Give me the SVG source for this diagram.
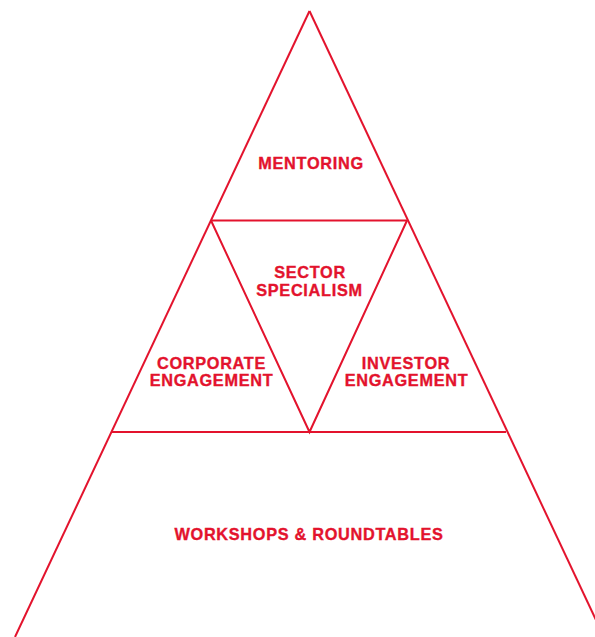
<svg xmlns="http://www.w3.org/2000/svg" width="595" height="637" viewBox="0 0 595 637">
  <style>
    .edge { fill: none; stroke: #e3132d; stroke-width: 2; stroke-linejoin: miter; }
    .label { font-family: "Liberation Sans", Arial, sans-serif; font-weight: bold; font-size: 16.3px; letter-spacing: 0.7px; fill: #e3132d; stroke: #e3132d; stroke-width: 0.35px; text-anchor: middle; }
  </style>
  <rect width="595" height="637" fill="#ffffff"/>
  <g id="connectors">
    <!-- outer sides of the pyramid -->
    <line class="edge" x1="309.5" y1="11" x2="15" y2="637"/>
    <line class="edge" x1="309.5" y1="11" x2="604" y2="637"/>
    <!-- tier dividers -->
    <line class="edge" x1="211" y1="220.5" x2="407" y2="220.5"/>
    <line class="edge" x1="111.5" y1="432" x2="506" y2="432"/>
    <!-- inverted centre triangle -->
    <polyline class="edge" points="211,220.5 309.5,432 407,220.5"/>
  </g>
  <g id="mentoring">
    <text class="label" x="311" y="168.5">MENTORING</text>
  </g>
  <g id="sector-specialism">
    <text class="label" x="310" y="278.3">SECTOR</text>
    <text class="label" x="309.5" y="296">SPECIALISM</text>
  </g>
  <g id="corporate-engagement">
    <text class="label" x="211.5" y="368.5">CORPORATE</text>
    <text class="label" x="211.5" y="386">ENGAGEMENT</text>
  </g>
  <g id="investor-engagement">
    <text class="label" x="406" y="368.5">INVESTOR</text>
    <text class="label" x="406.5" y="386">ENGAGEMENT</text>
  </g>
  <g id="workshops-roundtables">
    <text class="label" x="309" y="540">WORKSHOPS &amp; ROUNDTABLES</text>
  </g>
</svg>
